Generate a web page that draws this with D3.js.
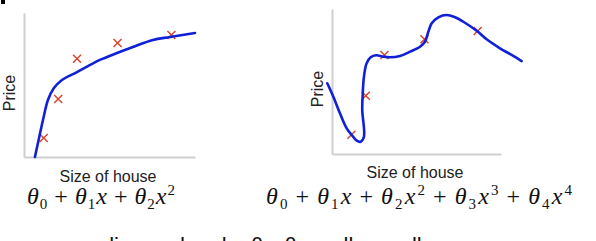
<!DOCTYPE html>
<html>
<head>
<meta charset="utf-8">
<script src="https://cdn.jsdelivr.net/npm/d3@7"></script>
<style>
  body { margin: 0; background: #fff; }
  svg { display: block; }
  .lbl { font-family: "Liberation Sans", Arial, sans-serif; font-size: 16px; fill: #222; }
  .math { font-family: "Liberation Serif", "Times New Roman", serif; font-size: 24px; fill: #111; }
</style>
</head>
<body>
<div class="box"></div>
<script>
// training examples (same houses in both panels), 0-100 units
const sizes  = [11.5, 20, 31, 54.7, 86.2];
const prices = [13.2, 40.2, 68.2, 79.2, 84.8];

// quadratic fit (left)
const fit2X = [6.4, 8.8, 11.1, 14.0, 17.5, 22.2, 31.0, 44.4, 54.4, 63.7, 75.4, 85.4, 100];
const fit2Y = [0, 13.2, 25.7, 39.6, 47.9, 53.5, 59.0, 67.4, 72.2, 76.4, 81.3, 83.3, 86.1];

// quartic fit (right), wiggly
const fit4X = [-2.8, 0.8, 4.7, 8.7, 11.7, 14.6, 17.0, 18.9, 17.9, 18.2, 18.9, 20.5, 22.9, 26.0, 30.4, 34.3,
               40.2, 46.2, 52.1, 55.0, 57.0, 59.0, 62.9, 67.9, 72.8, 77.7, 85.6, 91.5, 99.4, 106.3, 112.2];
const fit4Y = [48.8, 39.5, 28.1, 17.7, 13.1, 9.2, 8.5, 11.9, 30.3, 41.9, 53.3, 62.6, 66.7, 68.1, 67.1, 66.7,
               67.6, 70.6, 74.0, 77.4, 84.3, 90.1, 94.3, 95.9, 94.3, 91.2, 85.0, 79.1, 72.9, 68.3, 64.1];

const xLabel = 'Size of house';
const yLabel = 'Price';
const caption = 'Suppose we penalize and make θ₃, θ₄ really small.';

const svg = d3.select('.box').append('svg')
              .attr('width', 596)
              .attr('height', 241);

svg.append('rect').attr('x', 1).attr('y', 0).attr('width', 4).attr('height', 4).attr('fill', '#000');

const panels = [
  { left: 24, right: 195, top: 13, bottom: 157, fx: fit2X, fy: fit2Y, xlab: [108, 182], ylab: [15, 93] },
  { left: 332, right: 501, top: 9, bottom: 154, fx: fit4X, fy: fit4Y, xlab: [415, 178], ylab: [323, 89] }
];

panels.forEach(p => {
  const x = d3.scaleLinear().domain([0, 100]).range([p.left, p.right]);
  const y = d3.scaleLinear().domain([0, 100]).range([p.bottom, p.top]);
  const g = svg.append('g');

  g.append('g')
   .attr('transform', `translate(0,${p.bottom})`)
   .call(d3.axisBottom(x).ticks(0).tickSizeOuter(0));
  g.append('g')
   .attr('transform', `translate(${p.left},0)`)
   .call(d3.axisLeft(y).ticks(0).tickSizeOuter(0));
  g.selectAll('.domain').attr('stroke', '#cfcfcf').attr('stroke-width', 2);

  // crosses
  g.selectAll('path.cross')
   .data(sizes.map((s, i) => [s, prices[i]]))
   .join('path')
   .attr('class', 'cross')
   .attr('transform', d => `translate(${x(d[0])},${y(d[1])})`)
   .attr('d', 'M-4,-4L4,4M-4,4L4,-4')
   .attr('stroke', '#d9412b')
   .attr('stroke-width', 1.4)
   .attr('fill', 'none');

  // fitted curve
  const line = d3.line()
                 .x(d => x(d[0]))
                 .y(d => y(d[1]))
                 .curve(d3.curveCatmullRom.alpha(0.5));
  g.append('path')
   .datum(p.fx.map((v, i) => [v, p.fy[i]]))
   .attr('d', line)
   .attr('fill', 'none')
   .attr('stroke', '#1020d8')
   .attr('stroke-width', 2.6)
   .attr('stroke-linejoin', 'round')
   .attr('stroke-linecap', 'round');

  g.append('text').attr('class', 'lbl')
   .attr('x', p.xlab[0]).attr('y', p.xlab[1])
   .attr('text-anchor', 'middle')
   .text(xLabel);

  g.append('text').attr('class', 'lbl')
   .attr('transform', `translate(${p.ylab[0]},${p.ylab[1]}) rotate(-90)`)
   .attr('text-anchor', 'middle')
   .text(yLabel);
});

// formulas: theta_i x^i terms, every tspan gets an absolute y
function formula(x0, yb, degree, width) {
  const t = svg.append('text').attr('class', 'math')
               .attr('x', x0).attr('y', yb)
               .attr('textLength', width)
               .attr('lengthAdjust', 'spacing');
  for (let i = 0; i <= degree; i++) {
    if (i > 0) t.append('tspan').attr('y', yb).attr('dx', 6).text('+');
    t.append('tspan').attr('y', yb).attr('dx', i > 0 ? 6 : 0).attr('font-style', 'italic').text('θ');
    t.append('tspan').attr('y', yb + 5).attr('font-size', 15).text(i);
    if (i > 0) {
      t.append('tspan').attr('y', yb).attr('font-style', 'italic').text('x');
      if (i > 1) t.append('tspan').attr('y', yb - 9).attr('font-size', 15).text(i);
    }
  }
  return t;
}
formula(27, 204, 2, 148);
formula(266, 204, 4, 306);

svg.append('text')
   .attr('x', -67).attr('y', 253)
   .attr('font-family', '"Liberation Sans", Arial, sans-serif')
   .attr('font-size', 22)
   .attr('fill', '#111')
   .text(caption);
</script>
</body>
</html>
